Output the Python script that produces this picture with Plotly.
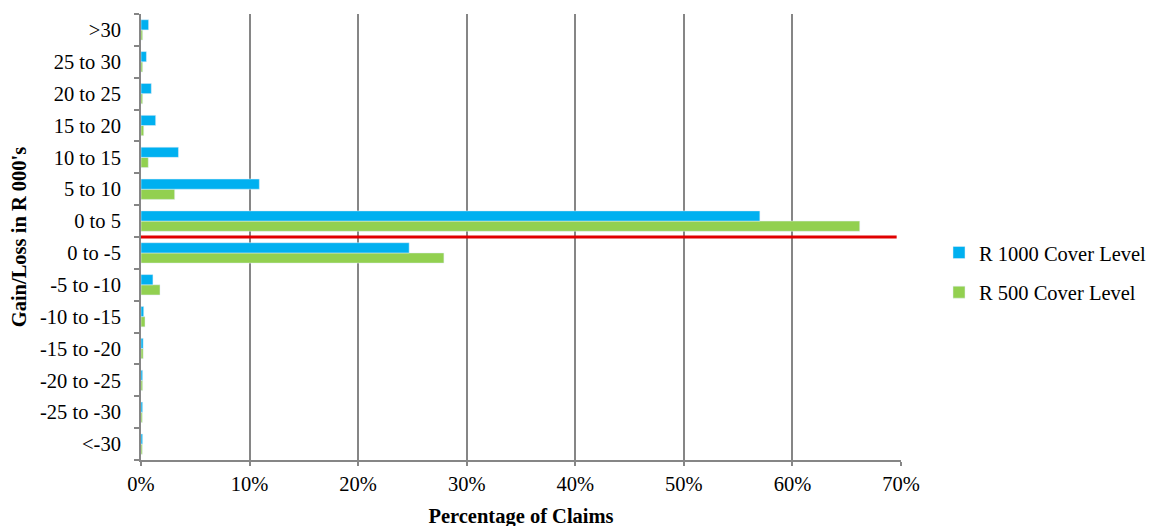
import plotly.graph_objects as go

categories = ["<-30", "-25 to -30", "-20 to -25", "-15 to -20", "-10 to -15", "-5 to -10",
              "0 to -5", "0 to 5", "5 to 10", "10 to 15", "15 to 20", "20 to 25", "25 to 30", ">30"]
r1000 = [0.15, 0.15, 0.15, 0.2, 0.25, 1.1, 24.7, 57.0, 10.9, 3.45, 1.35, 0.95, 0.5, 0.7]
r500 = [0.12, 0.12, 0.15, 0.2, 0.37, 1.75, 27.9, 66.2, 3.1, 0.67, 0.25, 0.15, 0.15, 0.15]
x_ticks = [0, 10, 20, 30, 40, 50, 60, 70]
x_tick_labels = ["0%", "10%", "20%", "30%", "40%", "50%", "60%", "70%"]

FF = "Liberation Serif, Times New Roman, serif"
FS = 20.5
font = dict(family=FF, size=FS, color="black")

fig = go.Figure()
fig.add_trace(go.Bar(y=categories, x=r500, orientation="h", name="R 500 Cover Level",
                     marker=dict(color="#92d050"), legendrank=2, legendgroup="b"))
fig.add_trace(go.Bar(y=categories, x=r1000, orientation="h", name="R 1000 Cover Level",
                     marker=dict(color="#00b0f0"), legendrank=1, legendgroup="a"))

fig.add_shape(type="line", xref="x", yref="y", x0=0, x1=69.6, y0=6.5, y1=6.5,
              line=dict(color="#e00000", width=3))

fig.update_layout(
    width=1156, height=526,
    margin=dict(l=133, r=263, t=6, b=74, autoexpand=False),
    paper_bgcolor="white", plot_bgcolor="white",
    font=font,
    barmode="group", bargap=0.36, bargroupgap=0,
    showlegend=True,
    legend=dict(x=1.05, y=0.42, yanchor="middle", xanchor="left",
                font=dict(family=FF, size=FS), traceorder="grouped",
                tracegroupgap=10, itemwidth=30),
    xaxis=dict(range=[0, 70], tickvals=x_ticks, ticktext=x_tick_labels,
               showgrid=True, gridcolor="#868686", gridwidth=2,
               showline=True, linecolor="#868686", linewidth=2,
               ticks="outside", ticklen=4, tickcolor="#868686", tickwidth=2,
               zeroline=False, automargin=False,
               title=dict(text="<b>Percentage of Claims</b>", standoff=15,
                          font=dict(family=FF, size=FS)),
               tickfont=dict(size=FS)),
    yaxis=dict(categoryorder="array", categoryarray=categories,
               range=[-0.5, 13.5],
               showline=True, linecolor="#868686", linewidth=2,
               ticks="outside", ticklen=5, tickcolor="#868686", tickwidth=2,
               tickson="boundaries", showgrid=False, automargin=False,
               ticklabelstandoff=14,
               title=dict(text="<b>Gain/Loss in R 000's</b>", standoff=10,
                          font=dict(family=FF, size=FS)),
               tickfont=dict(size=FS)),
)

fig.write_html("out.html")
